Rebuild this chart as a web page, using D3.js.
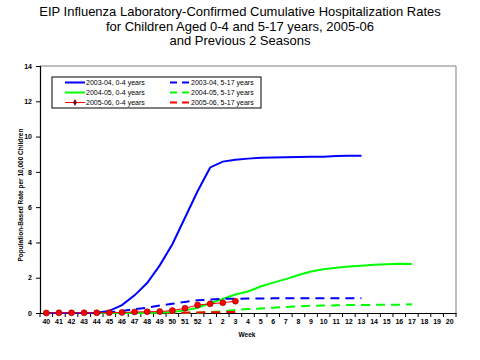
<!DOCTYPE html>
<html><head><meta charset="utf-8">
<script src="https://cdn.jsdelivr.net/npm/d3@7"></script>
<style>body{margin:0;background:#fff}svg{display:block}</style>
</head><body>
<script>
const weeks = ["40","41","42","43","44","45","46","47","48","49","50","51","52","1","2","3","4","5","6","7","8","9","10","11","12","13","14","15","16","17","18","19","20"];
const yTicks = [0,2,4,6,8,10,12,14];
const s0304_04 = [0,0,0,0,0.02,0.12,0.45,1.0,1.7,2.7,3.9,5.4,6.9,8.25,8.58,8.68,8.75,8.8,8.82,8.83,8.84,8.85,8.86,8.9,8.91,8.92];
const s0304_517 = [0,0,0,0,0,0.03,0.12,0.22,0.3,0.42,0.52,0.63,0.72,0.76,0.8,0.81,0.82,0.82,0.83,0.83,0.83,0.83,0.84,0.84,0.84,0.84];
const s0405_04 = [0,0,0,0,0,0,0,0,0,0.02,0.05,0.15,0.3,0.55,0.8,1.05,1.22,1.5,1.72,1.92,2.15,2.35,2.48,2.56,2.63,2.68,2.73,2.77,2.79,2.78];
const s0405_517 = [0,0,0,0,0,0,0,0,0,0,0,0,0.02,0.05,0.1,0.17,0.22,0.26,0.3,0.34,0.38,0.41,0.42,0.44,0.45,0.46,0.46,0.47,0.47,0.49];
const s0506_04 = [0,0.01,0.01,0.01,0.01,0.02,0.03,0.06,0.07,0.08,0.14,0.27,0.45,0.52,0.58,0.67];
const s0506_517 = [0,0,0,0,0,0,0,0,0,0,0.01,0.02,0.03,0.04,0.05,0.05];
const seriesNames = ["2003-04, 0-4 years","2003-04, 5-17 years","2004-05, 0-4 years","2004-05, 5-17 years","2005-06, 0-4 years","2005-06, 5-17 years"];

const W=480,H=360;
const svg=d3.select("body").append("svg").attr("width",W).attr("height",H);
const L=40,R=456,T=66,B=313;
const x=d3.scaleBand().domain(weeks).range([L,R]);
const y=d3.scaleLinear().domain([0,14]).range([B,T]);
const cx=w=>x(w)+x.bandwidth()/2;

// title
const title=["EIP Influenza Laboratory-Confirmed Cumulative Hospitalization Rates","for Children Aged 0-4 and 5-17 years, 2005-06","and Previous 2 Seasons"];
svg.append("g").selectAll("text").data(title).join("text")
  .attr("x",240).attr("y",(d,i)=>16+i*14.5).attr("text-anchor","middle")
  .attr("font-family","Liberation Sans, Arial, sans-serif").attr("font-size",13).text(d=>d);

// plot frame top/right gray
svg.append("path").attr("d",`M${L},${T}H${R}V${B}`).attr("fill","none").attr("stroke","#808080").attr("stroke-width",1);

// axes
const yAx=svg.append("g").attr("transform",`translate(${L},0)`)
  .call(d3.axisLeft(y).tickValues(yTicks).tickSize(4).tickFormat(d3.format("d")));
const xAx=svg.append("g").attr("transform",`translate(0,${B})`)
  .call(d3.axisBottom(x).tickSize(0));
[yAx,xAx].forEach(g=>{g.select(".domain").attr("stroke","#000").attr("stroke-width",1.2);
  g.selectAll("text").attr("font-family","Liberation Sans, Arial, sans-serif").attr("font-size",7).attr("font-weight","bold").attr("fill","#000");});
yAx.selectAll("text").attr("dx",-1);
xAx.selectAll("text").attr("dy",8);
// x boundary ticks
svg.append("g").selectAll("line").data(weeks.concat(["end"])).join("line")
  .attr("x1",(d,i)=>L+i*x.step()).attr("x2",(d,i)=>L+i*x.step())
  .attr("y1",B).attr("y2",B+4).attr("stroke","#000");

// axis titles
svg.append("text").attr("x",247).attr("y",337).attr("text-anchor","middle")
  .attr("font-family","Liberation Sans, Arial, sans-serif").attr("font-size",6.5).attr("font-weight","bold").text("Week");
svg.append("text").attr("transform","translate(23,195) rotate(-90)").attr("text-anchor","middle")
  .attr("font-family","Liberation Sans, Arial, sans-serif").attr("font-size",6.5).attr("font-weight","bold").text("Population-Based Rate per 10,000 Children");

const line=d3.line().x((d,i)=>cx(weeks[i])).y(d=>y(d));
const specs=[
  {data:s0304_04,color:"#0000ff",w:2,dash:null},
  {data:s0304_517,color:"#0000ff",w:2,dash:"9,6"},
  {data:s0405_04,color:"#00ff00",w:2,dash:null},
  {data:s0405_517,color:"#00ff00",w:2,dash:"9,6"},
  {data:s0506_04,color:"#ff0000",w:1,dash:null,marker:true},
  {data:s0506_517,color:"#ff0000",w:2,dash:"9,6"}
];
const order=[3,5,2,1,0,4];
order.forEach(k=>{const s=specs[k];
  svg.append("path").datum(s.data).attr("d",line).attr("fill","none")
    .attr("stroke",s.color).attr("stroke-width",s.w).attr("stroke-dasharray",s.dash);
  if(s.marker){
    svg.append("g").selectAll("circle").data(s.data).join("circle")
      .attr("cx",(d,i)=>cx(weeks[i])).attr("cy",d=>y(d)).attr("r",3)
      .attr("fill","#ff0000").attr("stroke","#800000").attr("stroke-width",0.6);
  }
});

// legend
const lg=svg.append("g");
lg.append("rect").attr("x",52).attr("y",77).attr("width",209).attr("height",31).attr("fill","#fff").attr("stroke","#000").attr("stroke-width",1);
const legPos=[[0,0],[1,0],[0,1],[1,1],[0,2],[1,2]];
specs.forEach((s,k)=>{
  const [c,r]=legPos[k];
  const x0=c?170:65, yy=82.5+r*10;
  lg.append("line").attr("x1",x0).attr("x2",x0+20).attr("y1",yy).attr("y2",yy)
    .attr("stroke",s.color).attr("stroke-width",s.w).attr("stroke-dasharray",s.dash?"7,5":null);
  if(s.marker) lg.append("path").attr("d",d3.symbol(d3.symbolDiamond,14)()).attr("transform",`translate(${x0+10},${yy})`).attr("fill","#800000");
  lg.append("text").attr("x",x0+21).attr("y",yy+2.5).attr("font-family","Liberation Sans Narrow, Liberation Sans, Arial, sans-serif")
    .attr("font-size",7).text(seriesNames[k]);
});
</script>
</body></html>
